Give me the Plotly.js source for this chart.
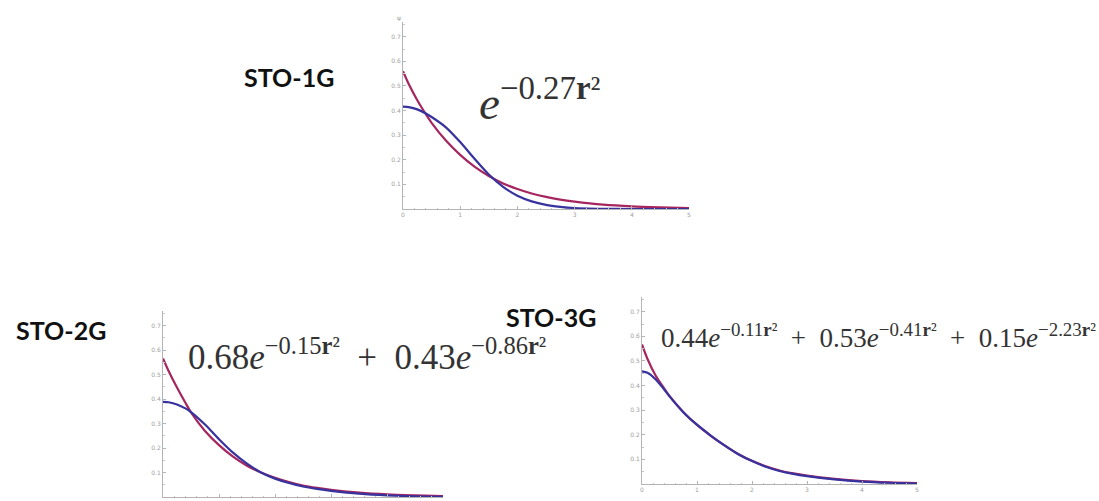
<!DOCTYPE html>
<html>
<head>
<meta charset="utf-8">
<script src="https://cdn.plot.ly/plotly-3.0.1.min.js"></script>
<style>html,body{margin:0;padding:0;background:#fff;}#chart{width:1099px;height:501px;}</style>
</head>
<body>
<div id="chart"></div>
<script>
// radial distance r (bohr)
const r = [0, 0.1, 0.25, 0.4, 0.5, 0.75, 1, 1.25, 1.5, 1.75, 2, 2.25, 2.5, 2.75, 3, 3.5, 4, 4.5, 5];

// STO-1G panel
const sto1Slater   = [0.560, 0.508, 0.442, 0.385, 0.350, 0.278, 0.220, 0.172, 0.134, 0.104, 0.081, 0.063, 0.049, 0.038, 0.030, 0.018, 0.011, 0.007, 0.004];
const sto1Gaussian = [0.416, 0.414, 0.405, 0.388, 0.374, 0.332, 0.272, 0.204, 0.140, 0.090, 0.054, 0.031, 0.017, 0.009, 0.004, 0.001, 0.000, 0.000, 0.000];

// STO-2G panel
const sto2Slater   = [0.566, 0.515, 0.447, 0.385, 0.346, 0.270, 0.212, 0.165, 0.128, 0.100, 0.078, 0.061, 0.047, 0.037, 0.029, 0.018, 0.011, 0.007, 0.004];
const sto2Gaussian = [0.389, 0.387, 0.378, 0.362, 0.347, 0.296, 0.236, 0.181, 0.136, 0.100, 0.075, 0.057, 0.043, 0.033, 0.025, 0.014, 0.007, 0.003, 0.001];

// STO-3G panel
const sto3Slater   = [0.567, 0.508, 0.440, 0.390, 0.358, 0.293, 0.240, 0.196, 0.157, 0.122, 0.094, 0.072, 0.055, 0.043, 0.034, 0.021, 0.012, 0.007, 0.004];
const sto3Gaussian = [0.458, 0.452, 0.425, 0.385, 0.356, 0.292, 0.241, 0.197, 0.157, 0.121, 0.093, 0.070, 0.053, 0.041, 0.032, 0.019, 0.010, 0.005, 0.002];

// tick values
const xTicks = [0, 1, 2, 3, 4, 5];
const yTicks = [0.1, 0.2, 0.3, 0.4, 0.5, 0.6, 0.7];

// labels
const panelNames = ["STO-1G", "STO-2G", "STO-3G"];
const formulas = [
  "<i>e</i><sup>−0.27<b>r</b>²</sup>",
  "0.68<i>e</i><sup>−0.15<b>r</b>²</sup>  +  0.43<i>e</i><sup>−0.86<b>r</b>²</sup>",
  "0.44<i>e</i><sup>−0.11<b>r</b>²</sup>  +  0.53<i>e</i><sup>−0.41<b>r</b>²</sup>  +  0.15<i>e</i><sup>−2.23<b>r</b>²</sup>"
];

const W = 1099, H = 501;
const px = v => v / W, py = v => 1 - v / H;

const RED = "rgb(165,38,95)";
const BLUE = "rgb(55,50,158)";

function line(x, y, color, xa, ya) {
  return {x: x, y: y, type: "scatter", mode: "lines", xaxis: xa, yaxis: ya,
          line: {color: color, width: 2.2, shape: "spline", smoothing: 0.8}, hoverinfo: "skip"};
}

const traces = [
  line(r, sto1Slater, RED, "x", "y"),
  line(r, sto1Gaussian, BLUE, "x", "y"),
  line(r, sto2Slater, RED, "x2", "y2"),
  line(r, sto2Gaussian, BLUE, "x2", "y2"),
  line(r, sto3Slater, RED, "x3", "y3"),
  line(r, sto3Gaussian, BLUE, "x3", "y3")
];

function xAxis(domain, anchor, labels) {
  return {domain: domain, anchor: anchor, range: [0, 5], showgrid: false, zeroline: false,
          showline: true, linecolor: "#b4b4b4", linewidth: 1, ticks: "inside", ticklen: 3,
          tickcolor: "#b4b4b4", tickvals: xTicks, ticktext: xTicks.map(String),
          showticklabels: labels,
          tickfont: {size: 6, color: "#a0a0a0", family: "DejaVu Sans"},
          minor: {ticks: "inside", ticklen: 1.5, dtick: 0.2, tick0: 0, tickcolor: "#c8c8c8"},
          fixedrange: true};
}
function yAxis(domain, anchor) {
  return {domain: domain, anchor: anchor, range: [0, 0.76], showgrid: false, zeroline: false,
          showline: true, linecolor: "#b4b4b4", linewidth: 1, ticks: "inside", ticklen: 3,
          tickcolor: "#b4b4b4", tickvals: yTicks, ticktext: yTicks.map(v => v.toFixed(1)),
          tickfont: {size: 6, color: "#a0a0a0", family: "DejaVu Sans"},
          minor: {ticks: "inside", ticklen: 1.5, dtick: 0.05, tick0: 0, tickcolor: "#c8c8c8"},
          fixedrange: true};
}

const labelFont = {family: "Lato", size: 25, color: "#111", weight: 700};

const layout = {
  width: W, height: H, margin: {l: 0, r: 0, t: 0, b: 0},
  paper_bgcolor: "#ffffff", plot_bgcolor: "rgba(0,0,0,0)", showlegend: false,
  xaxis:  xAxis([px(403), px(689)], "y", true),
  yaxis:  yAxis([py(209), py(22)], "x"),
  xaxis2: xAxis([px(163), px(443)], "y2", false),
  yaxis2: yAxis([py(497), py(311)], "x2"),
  xaxis3: xAxis([px(642), px(917)], "y3", true),
  yaxis3: yAxis([py(484), py(297)], "x3"),
  annotations: [
    {text: "<b>" + panelNames[0] + "</b>", x: px(289), y: py(77), xref: "paper", yref: "paper", showarrow: false,
     font: labelFont, xanchor: "center", yanchor: "middle"},
    {text: "<b>" + panelNames[1] + "</b>", x: px(61), y: py(330), xref: "paper", yref: "paper", showarrow: false,
     font: labelFont, xanchor: "center", yanchor: "middle"},
    {text: "<b>" + panelNames[2] + "</b>", x: px(551), y: py(317), xref: "paper", yref: "paper", showarrow: false,
     font: labelFont, xanchor: "center", yanchor: "middle"},
    {text: formulas[0], x: px(477), y: py(100), xref: "paper", yref: "paper", showarrow: false,
     font: {family: "Liberation Serif", size: 47, color: "#333"}, xanchor: "left", yanchor: "middle"},
    {text: formulas[1], x: px(186), y: py(354), xref: "paper", yref: "paper", showarrow: false,
     font: {family: "Liberation Serif", size: 35, color: "#333"}, xanchor: "left", yanchor: "middle"},
    {text: formulas[2], x: px(659), y: py(336), xref: "paper", yref: "paper", showarrow: false,
     font: {family: "Liberation Serif", size: 27, color: "#333"}, xanchor: "left", yanchor: "middle"},
    {text: "ψ", x: px(403), y: py(18), xref: "paper", yref: "paper", showarrow: false,
     font: {family: "DejaVu Sans", size: 6, color: "#a0a0a0"}, xanchor: "right", yanchor: "middle"}
  ]
};

Plotly.newPlot("chart", traces, layout, {staticPlot: true, displayModeBar: false});
</script>
</body>
</html>
